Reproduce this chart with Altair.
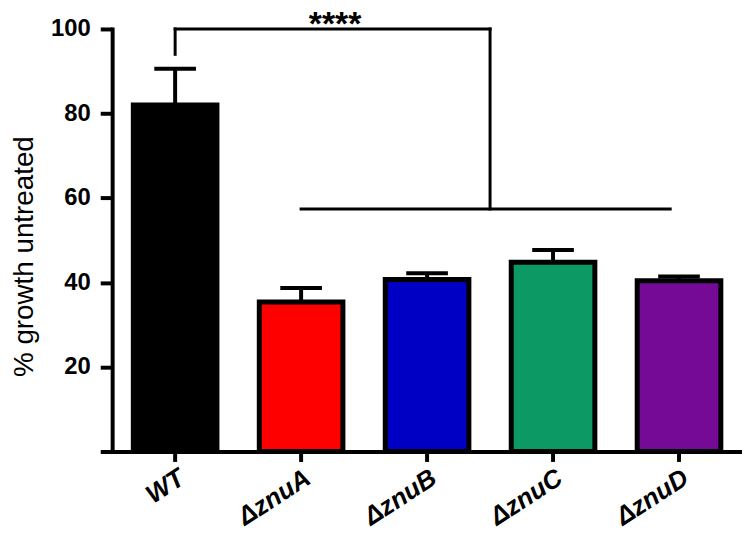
import altair as alt
import pandas as pd

# ---- data ----
groups = ["WT", "ΔznuA", "ΔznuB", "ΔznuC", "ΔznuD"]
means = [82.0, 35.4, 40.7, 44.8, 40.4]
upper = [90.6, 38.7, 42.2, 47.7, 41.4]
colors = ["#000000", "#FF0000", "#0000C4", "#0C9963", "#750A96"]

# significance bracket (x in category-index units: 0..5, y in % units)
br_x = [0.5, 0.5, 3.0, 1.5]
br_x2 = [0.5, 3.0, 3.0, 4.43]
br_y = [94.0, 100.0, 100.0, 57.4]
br_y2 = [100.0, 100.0, 57.4, 57.4]
star_x = [1.77]
star_y = [98.5]
star_txt = ["****"]

FONT = "Liberation Sans"

df = pd.DataFrame({"group": groups, "mean": means, "upper": upper})
df_br = pd.DataFrame({"bx": br_x, "bx2": br_x2, "by": br_y, "by2": br_y2})
df_st = pd.DataFrame({"sx": star_x, "sy": star_y, "t": star_txt})

yscale = alt.Scale(domain=[0, 100], nice=False, zero=True)
xband = alt.Scale(domain=groups, paddingInner=0.336, paddingOuter=0.168)
xlin = alt.Scale(domain=[0, 5], nice=False, zero=False)

x_enc = alt.X(
    "group:N",
    sort=groups,
    scale=xband,
    axis=alt.Axis(
        title=None,
        labelAngle=-33,
        labelAlign="right",
        labelBaseline="top",
        labelFont=FONT,
        labelFontWeight="bold",
        labelFontStyle="italic",
        labelFontSize=26,
        labelColor="black",
        labelPadding=3,
        labelOverlap=False,
        ticks=True,
        tickSize=10,
        tickWidth=4,
        tickColor="black",
        domain=True,
        domainWidth=4,
        domainColor="black",
        domainCap="square",
    ),
)

y_enc = alt.Y(
    "mean:Q",
    scale=yscale,
    axis=alt.Axis(
        values=[0, 20, 40, 60, 80, 100],
        labelExpr="datum.value == 0 ? '' : datum.label",
        title="% growth untreated",
        titleFont=FONT,
        titleFontSize=28,
        titleFontWeight="normal",
        titleColor="black",
        titleX=-74,
        titleY=229,
        titleAngle=-90,
        titleAlign="center",
        titleBaseline="bottom",
        labelFont=FONT,
        labelFontWeight="bold",
        labelFontSize=24,
        labelColor="black",
        labelPadding=10,
        ticks=True,
        tickSize=12,
        tickWidth=4,
        tickColor="black",
        domain=True,
        domainWidth=4,
        domainColor="black",
        domainCap="square",
        grid=False,
    ),
)

bars = alt.Chart(df).mark_bar(stroke="black", strokeWidth=5, opacity=1).encode(
    x=x_enc,
    y=y_enc,
    color=alt.Color("group:N", scale=alt.Scale(domain=groups, range=colors), legend=None),
)

err = alt.Chart(df).mark_rule(color="black", strokeWidth=4).encode(
    x=alt.X("group:N", sort=groups, scale=xband),
    y=alt.Y("mean:Q", scale=yscale),
    y2="upper:Q",
)

caps = alt.Chart(df).mark_tick(color="black", thickness=4, size=42, opacity=1).encode(
    x=alt.X("group:N", sort=groups, scale=xband),
    y=alt.Y("upper:Q", scale=yscale),
)

base = alt.layer(bars, err, caps)

bracket = alt.Chart(df_br).mark_rule(color="black", strokeWidth=3, strokeCap="square").encode(
    x=alt.X("bx:Q", scale=xlin, axis=None),
    x2="bx2:Q",
    y=alt.Y("by:Q", scale=yscale, axis=None),
    y2="by2:Q",
)

stars = alt.Chart(df_st).mark_text(
    font=FONT, fontSize=34, fontWeight="bold", color="black", align="center", baseline="alphabetic"
).encode(
    x=alt.X("sx:Q", scale=xlin, axis=None),
    y=alt.Y("sy:Q", scale=yscale, axis=None),
    text="t:N",
)

annot = alt.layer(bracket, stars)

chart = (
    alt.layer(base, annot)
    .resolve_scale(x="independent", y="independent")
    .resolve_axis(x="independent", y="independent")
    .properties(
        width=635,
        height=426,
        padding={"left": 105, "top": 19, "right": 0, "bottom": 78},
        autosize=alt.AutoSizeParams(type="none"),
        background="white",
    )
    .configure_view(stroke=None)
)

chart.save("out.html", embed_options={"renderer": "svg", "actions": False})
